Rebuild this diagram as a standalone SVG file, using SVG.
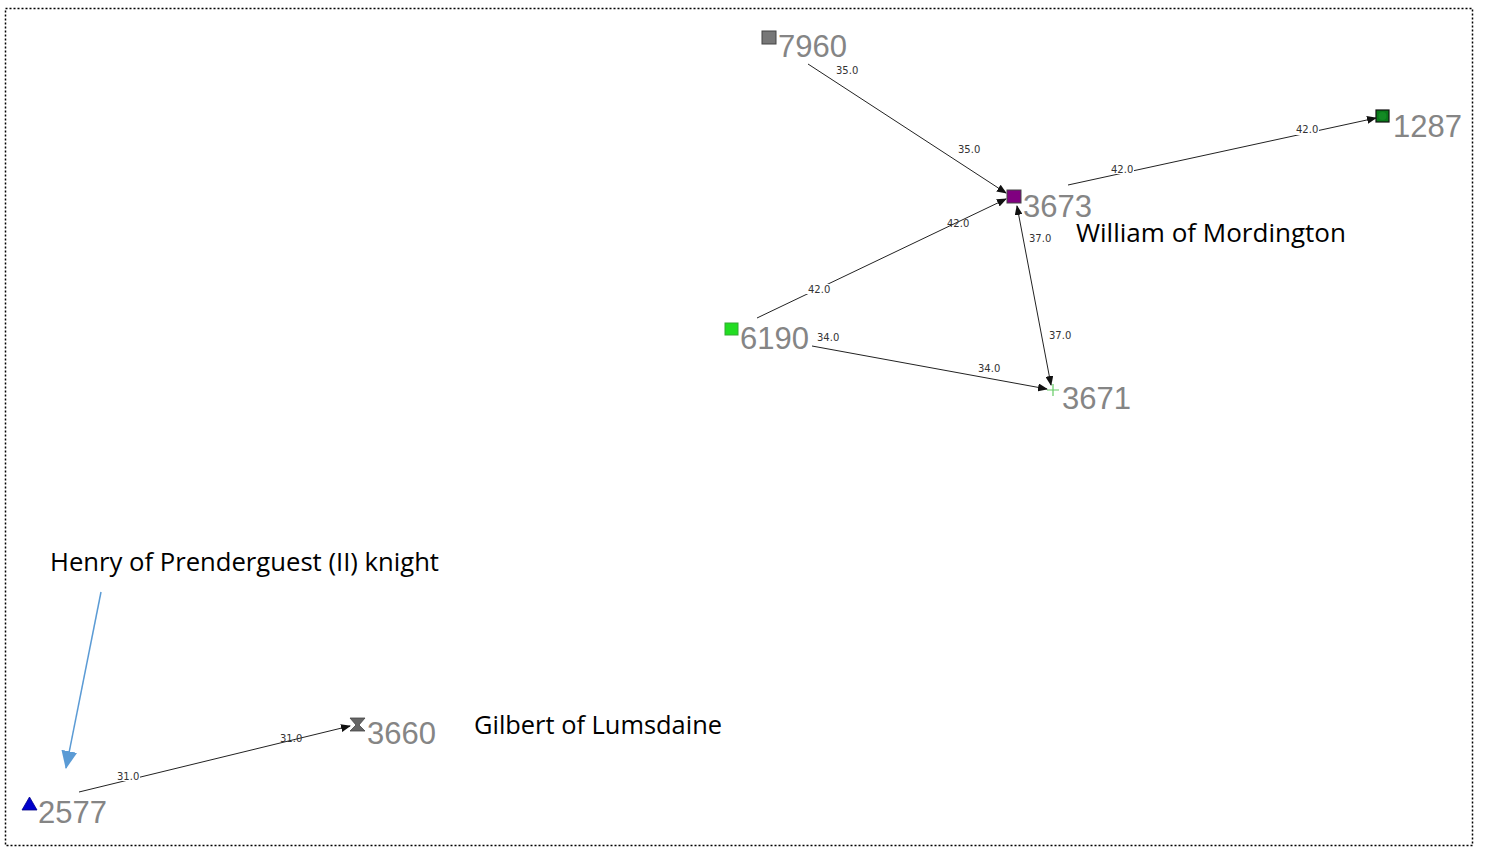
<svg xmlns="http://www.w3.org/2000/svg" width="1489" height="848" viewBox="0 0 1489 848">
<style>
.num{font-family:"Liberation Sans",Arial,sans-serif;font-size:31px;fill:#858585}
.el{font-family:"DejaVu Sans",Verdana,sans-serif;font-size:10px;fill:#333}
.ann{font-family:"Open Sans","Noto Sans",sans-serif;font-size:25.5px;fill:#000}
.edge{stroke:#222;stroke-width:1;fill:none}
.lblbg{fill:#fff}
</style>
<defs>
<marker id="ah" markerWidth="10" markerHeight="8" refX="9" refY="4" orient="auto" markerUnits="userSpaceOnUse">
<path d="M0,0 L10,4 L0,8 z" fill="#111"/>
</marker>
<marker id="ahs" markerWidth="10" markerHeight="8" refX="1" refY="4" orient="auto" markerUnits="userSpaceOnUse">
<path d="M10,0 L0,4 L10,8 z" fill="#111"/>
</marker>
<marker id="blue" markerWidth="18" markerHeight="16" refX="17" refY="8" orient="auto" markerUnits="userSpaceOnUse">
<path d="M0,0 L18,8 L0,16 z" fill="#5B9BD5"/>
</marker>
</defs>
<rect width="1489" height="848" fill="#fff"/>
<rect x="5.5" y="8.5" width="1467" height="837" fill="none" stroke="#000" stroke-width="1.5" stroke-dasharray="2,2"/>

<g id="connectors">
<line class="edge" x1="808" y1="64" x2="1006" y2="193" marker-end="url(#ah)"/>
<line class="edge" x1="1068" y1="185" x2="1376" y2="118" marker-end="url(#ah)"/>
<line class="edge" x1="757" y1="318" x2="1006" y2="199" marker-end="url(#ah)"/>
<line class="edge" x1="1017" y1="206" x2="1051" y2="385" marker-start="url(#ahs)" marker-end="url(#ah)"/>
<line class="edge" x1="812" y1="346" x2="1047" y2="389" marker-end="url(#ah)"/>
<line class="edge" x1="79" y1="792" x2="350" y2="726" marker-end="url(#ah)"/>
<line x1="101" y1="592" x2="66" y2="768" stroke="#5B9BD5" stroke-width="1.5" marker-end="url(#blue)"/>
<g class="el">
<text x="836" y="74">35.0</text>
<text x="958" y="153">35.0</text>
<rect class="lblbg" x="1110" y="164" width="24" height="10"/>
<text x="1111" y="173">42.0</text>
<rect class="lblbg" x="1295" y="125" width="24" height="10"/>
<text x="1296" y="133">42.0</text>
<rect class="lblbg" x="806" y="284" width="24" height="10"/>
<text x="808" y="293">42.0</text>
<text x="947" y="227">42.0</text>
<text x="1029" y="242">37.0</text>
<text x="1049" y="339">37.0</text>
<text x="817" y="341">34.0</text>
<text x="978" y="372">34.0</text>
<rect class="lblbg" x="116" y="771" width="24" height="10"/>
<text x="117" y="780">31.0</text>
<text x="280" y="742">31.0</text>
</g>
</g>

<g id="n7960">
<rect x="762" y="31" width="14" height="13" fill="#777" stroke="#444" stroke-width="1"/>
<text class="num" x="778" y="57">7960</text>
</g>
<g id="n3673">
<rect x="1007" y="190" width="14" height="13" fill="#800080" stroke="#444" stroke-width="1"/>
<text class="num" x="1023" y="217">3673</text>
</g>
<g id="n1287">
<rect x="1376" y="110" width="13" height="12" fill="#0a7a1a" stroke="#111" stroke-width="1.2"/>
<circle cx="1382.5" cy="116" r="4" fill="#138a24"/>
<text class="num" x="1393" y="137">1287</text>
</g>
<g id="n6190">
<rect x="725" y="323" width="13" height="12" fill="#22dd22" stroke="#3a3" stroke-width="1"/>
<text class="num" x="740" y="349">6190</text>
</g>
<g id="n3671">
<path d="M1053,384 V396 M1047,390 H1059" stroke="#66cc66" stroke-width="1.2"/>
<text class="num" x="1062" y="409">3671</text>
</g>
<g id="n2577">
<polygon points="22,810 37,810 29.5,797" fill="#0000cc" stroke="#000088" stroke-width="0.8"/>
<text class="num" x="38" y="823">2577</text>
</g>
<g id="n3660">
<polygon points="350,718 365,718 359,725 365,731 350,731 356,725" fill="#666" stroke="#444" stroke-width="0.8"/>
<text class="num" x="367" y="744">3660</text>
</g>

<g id="annotations">
<text class="ann" x="1076" y="242" textLength="270" lengthAdjust="spacingAndGlyphs">William of Mordington</text>
<text class="ann" x="50" y="571" textLength="389" lengthAdjust="spacingAndGlyphs">Henry of Prenderguest (II) knight</text>
<text class="ann" x="474" y="734" textLength="248" lengthAdjust="spacingAndGlyphs">Gilbert of Lumsdaine</text>
</g>
</svg>
